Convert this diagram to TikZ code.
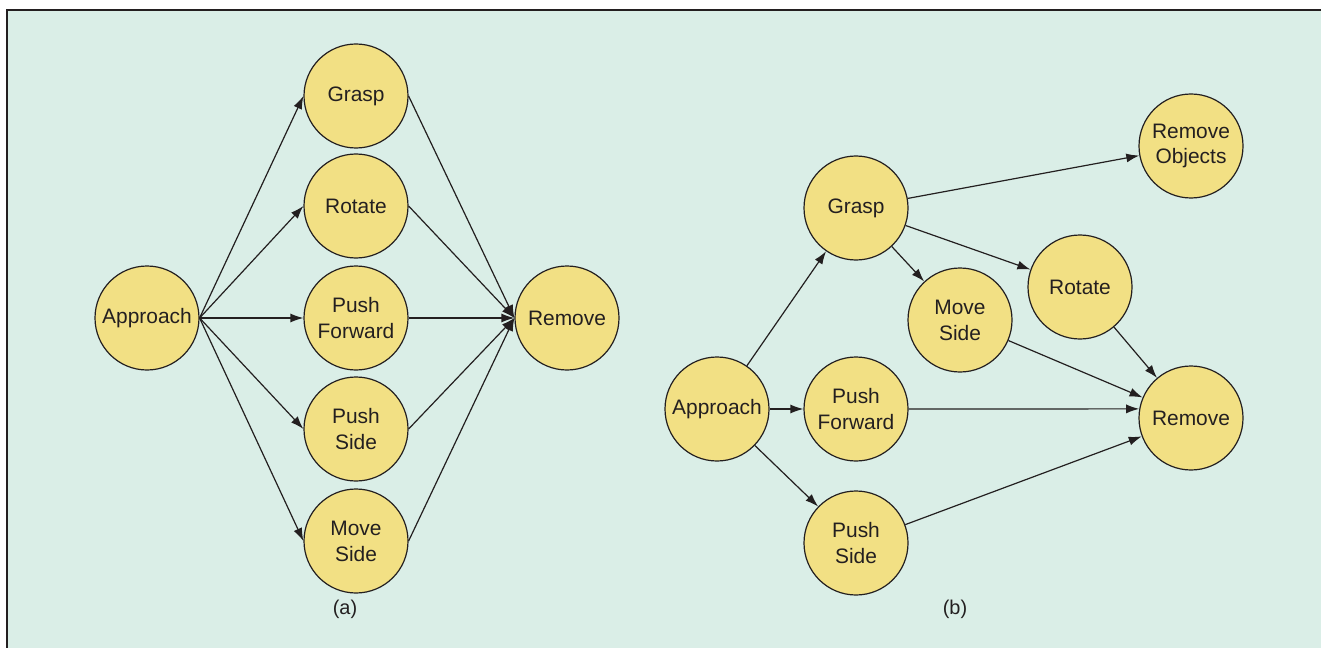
\documentclass[tikz,border=0pt]{standalone}
\usepackage{fontspec}
\setmainfont{Liberation Sans}
\usetikzlibrary{arrows.meta}
\definecolor{panel}{HTML}{DAEEE7}
\definecolor{nodefill}{HTML}{F2E084}
\definecolor{ink}{HTML}{231F20}
\tikzset{
  state/.style={circle, draw=ink, line width=1.2bp, fill=nodefill,
    minimum size=104bp, inner sep=0pt, align=center, text=ink,
    font=\fontsize{21}{26}\selectfont},
  link/.style={draw=ink, line width=1.2bp, -{Latex[length=13bp,width=9bp]}},
  caption/.style={text=ink, font=\fontsize{20}{24}\selectfont}
}
\begin{document}
\begin{tikzpicture}[x=1bp, y=-1bp]
  \useasboundingbox (0,0) rectangle (1321,648);
  \fill[white] (0,0) rectangle (1321,648);
  \fill[panel] (7,10) rectangle (1321,648);
  \draw[ink, line width=1.6bp] (7,648) -- (7,10) -- (1321,10);

  % panel (a): parallel alternatives
  \node[state] (aA) at (147,318) {Approach};
  \node[state] (aG) at (356,96) {Grasp};
  \node[state] (aR) at (356,206) {Rotate};
  \node[state] (aF) at (356,318) {Push\\Forward};
  \node[state] (aS) at (356,429) {Push\\Side};
  \node[state] (aM) at (356,541) {Move\\Side};
  \node[state] (aX) at (567,318) {Remove};
  \node[caption] (capa) at (345,609) {(a)};
  \foreach \m in {aG,aR,aF,aS,aM} {
    \draw[link] (aA.east) -- (\m.west);
    \draw[link] (\m.east) -- (aX.west);
  }

  % panel (b): refined sequence graph
  \node[state] (bA) at (717,409) {Approach};
  \node[state] (bG) at (856,208) {Grasp};
  \node[state] (bF) at (856,409) {Push\\Forward};
  \node[state] (bS) at (856,543) {Push\\Side};
  \node[state] (bM) at (960,320) {Move\\Side};
  \node[state] (bR) at (1080,287) {Rotate};
  \node[state] (bO) at (1191,146) {Remove\\Objects};
  \node[state] (bX) at (1191,418) {Remove};
  \node[caption] (capb) at (955,609) {(b)};
  \draw[link] (bA) -- (bG);
  \draw[link] (bA) -- (bF);
  \draw[link] (bA) -- (bS);
  \draw[link] (bG) -- (bO);
  \draw[link] (bG) -- (bR);
  \draw[link] (bG) -- (bM);
  \draw[link] (bR) -- (bX);
  \draw[link] (bM) -- (bX);
  \draw[link] (bF.east) -- (bX.170);
  \draw[link] (bS) -- (bX);
\end{tikzpicture}
\end{document}
